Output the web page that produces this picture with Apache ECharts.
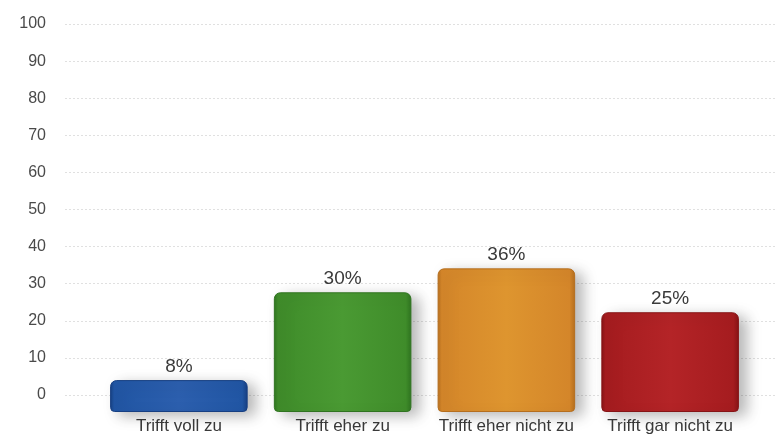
<!DOCTYPE html>
<html>
<head>
<meta charset="utf-8">
<script src="https://cdn.jsdelivr.net/npm/echarts@6/dist/echarts.min.js"></script>
<style>
  html, body { margin: 0; padding: 0; background: #ffffff; }
  #chart { width: 776px; height: 435px; }
</style>
</head>
<body>
<div id="chart"></div>
<script>
// Antworten auf die Aussage, Anteil in Prozent
const categories = ['Trifft voll zu', 'Trifft eher zu', 'Trifft eher nicht zu', 'Trifft gar nicht zu'];
const values = [8, 30, 36, 25];
const barColors = [
  ['#2c5fae', '#2156a4', '#173f82'],
  ['#4a9a33', '#3f8c2a', '#2f7320'],
  ['#de952f', '#d4862a', '#b56e1e'],
  ['#b42427', '#a51c1f', '#861416']
];
const axisMin = 0;
const axisMax = 100;
const axisStep = 10;

function face(c) {
  return {
    type: 'linear', x: 0, y: 0, x2: 1, y2: 0,
    colorStops: [
      { offset: 0, color: c[2] },
      { offset: 0.03, color: c[1] },
      { offset: 0.5, color: c[0] },
      { offset: 0.96, color: c[1] },
      { offset: 1, color: c[2] }
    ]
  };
}

const font = 'Liberation Sans, Arial, sans-serif';
const chart = echarts.init(document.getElementById('chart'), null, { renderer: 'canvas' });

chart.setOption({
  animation: false,
  backgroundColor: '#ffffff',
  grid: [
    // back wall with the scale
    { left: 65, right: 0, top: 24, bottom: 40 },
    // front plane carrying the bars
    { left: 97, right: 24, top: 13, bottom: 22 }
  ],
  xAxis: [
    { gridIndex: 0, type: 'category', data: categories, show: false },
    {
      gridIndex: 1, type: 'category', data: categories,
      axisLine: { show: false }, axisTick: { show: false },
      axisLabel: {
        interval: 0, hideOverlap: false,
        color: '#3a3a3a', fontSize: 17, fontFamily: font, margin: 6
      }
    }
  ],
  yAxis: [
    {
      gridIndex: 0, type: 'value', min: axisMin, max: axisMax, interval: axisStep,
      axisLine: { show: false }, axisTick: { show: false },
      axisLabel: { color: '#4a4a4a', fontSize: 16, fontFamily: font, margin: 19 },
      splitLine: { lineStyle: { color: '#e0e0e0', type: [2, 2], width: 1 } }
    },
    { gridIndex: 1, type: 'value', min: axisMin, max: axisMax, show: false }
  ],
  series: [
    {
      type: 'bar',
      xAxisIndex: 1, yAxisIndex: 1,
      barWidth: '84%',
      data: values.map((v, i) => ({
        value: v,
        itemStyle: {
          color: face(barColors[i]),
          borderRadius: [6, 6, 4, 4],
          borderColor: barColors[i][2],
          borderWidth: 1,
          shadowColor: 'rgba(0,0,0,0.28)',
          shadowBlur: 14,
          shadowOffsetX: 8,
          shadowOffsetY: 4
        }
      })),
      label: {
        show: true, position: 'top', distance: 4,
        formatter: '{c}%',
        color: '#3a3a3a', fontSize: 19, fontFamily: font
      }
    }
  ]
});
</script>
</body>
</html>
